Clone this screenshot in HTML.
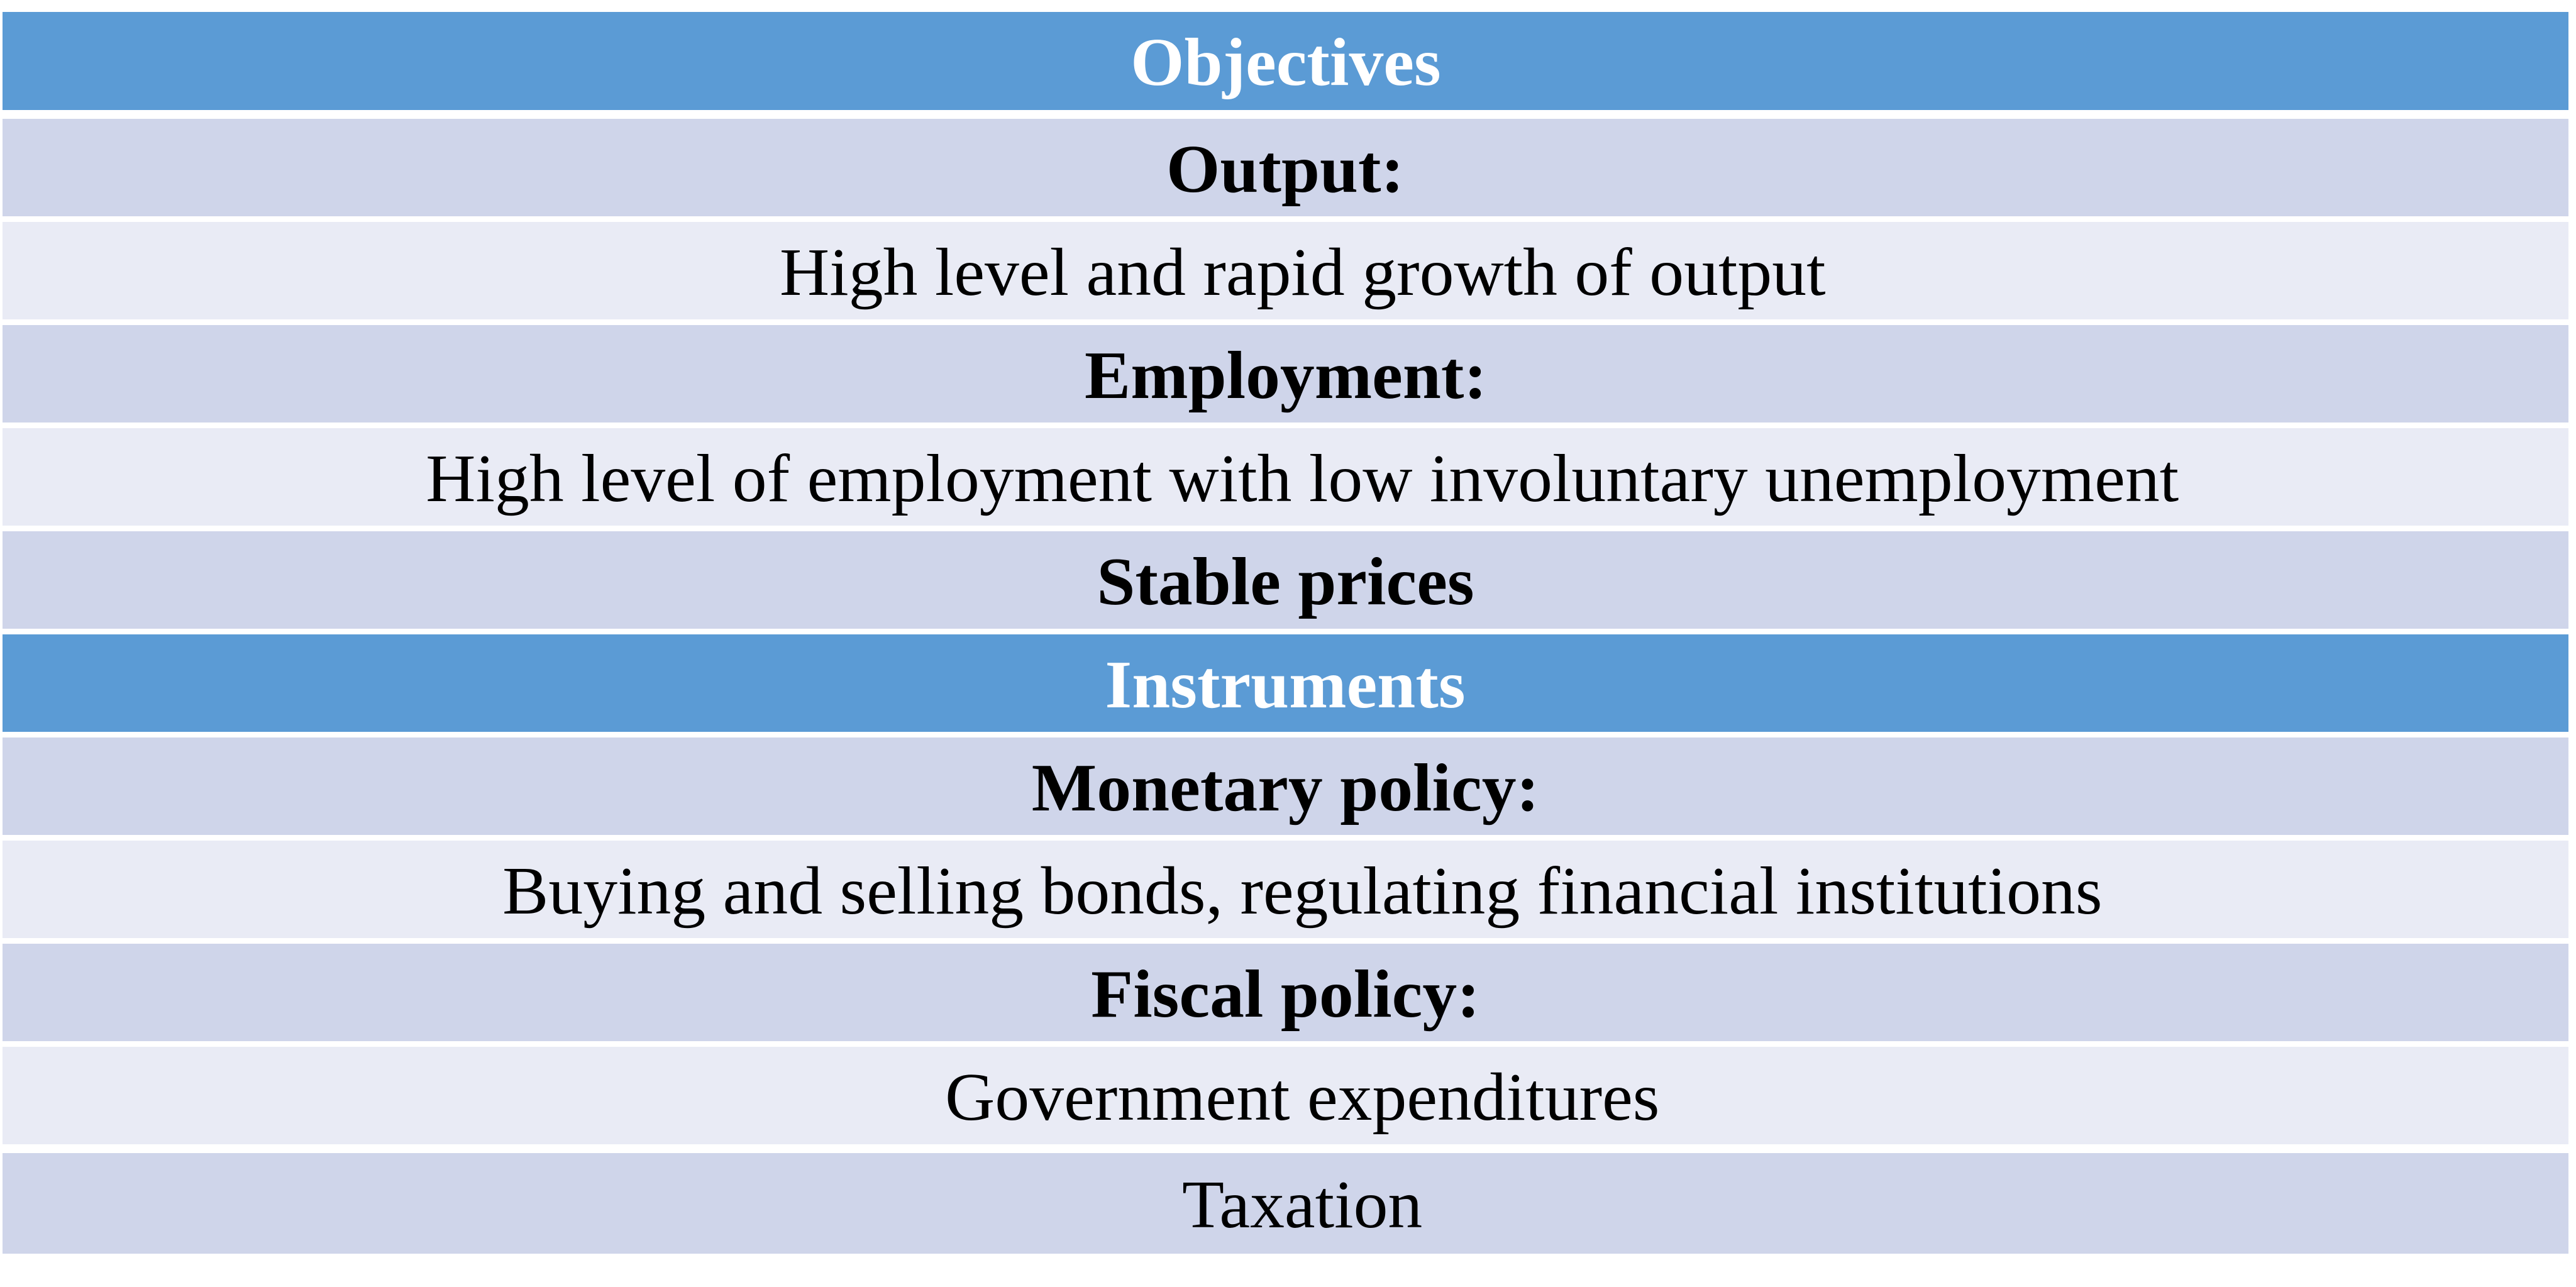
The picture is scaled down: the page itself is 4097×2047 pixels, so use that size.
<!DOCTYPE html>
<html><head><meta charset="utf-8"><style>
html,body{margin:0;padding:0;background:#fff;width:4097px;height:2047px;overflow:hidden}
#t{position:absolute;left:4px;top:19px;width:4081px}
.r{position:absolute;left:0;width:4081px;display:flex;align-items:center;justify-content:center;font-family:"Liberation Serif",serif;font-size:108px;color:#000;white-space:nowrap;box-sizing:border-box;padding-top:6px}
.r span{display:inline-block;transform-origin:center}
.h{background:#5b9bd5;color:#fff;font-weight:bold}
.d{background:#cfd5ea}
.l{background:#e9ebf5}
.b{font-weight:bold}
.n{padding-left:54px}
</style></head><body>
<div id="t">
<div class="r h" style="top:0;height:156px"><span>Objectives</span></div>
<div class="r d b" style="top:170px;height:155px"><span>Output:</span></div>
<div class="r l n" style="top:334px;height:155px"><span>High level and rapid growth of output</span></div>
<div class="r d b" style="top:498px;height:155px"><span>Employment:</span></div>
<div class="r l n" style="top:662px;height:155px"><span id="ref">High level of employment with low involuntary unemployment</span></div>
<div class="r d b" style="top:826px;height:155px"><span>Stable prices</span></div>
<div class="r h" style="top:990px;height:155px"><span>Instruments</span></div>
<div class="r d b" style="top:1154px;height:155px"><span>Monetary policy:</span></div>
<div class="r l n" style="top:1318px;height:155px"><span>Buying and selling bonds, regulating financial institutions</span></div>
<div class="r d b" style="top:1482px;height:155px"><span>Fiscal policy:</span></div>
<div class="r l n" style="top:1646px;height:155px"><span>Government expenditures</span></div>
<div class="r d n" style="top:1815px;height:160px"><span>Taxation</span></div>
</div>
<script>
var ref=document.getElementById('ref');
var w=ref.getBoundingClientRect().width;
var s=2788/w;
document.querySelectorAll('.r span').forEach(function(e){e.style.transform='scaleX('+s+')';});
</script>
</body></html>
